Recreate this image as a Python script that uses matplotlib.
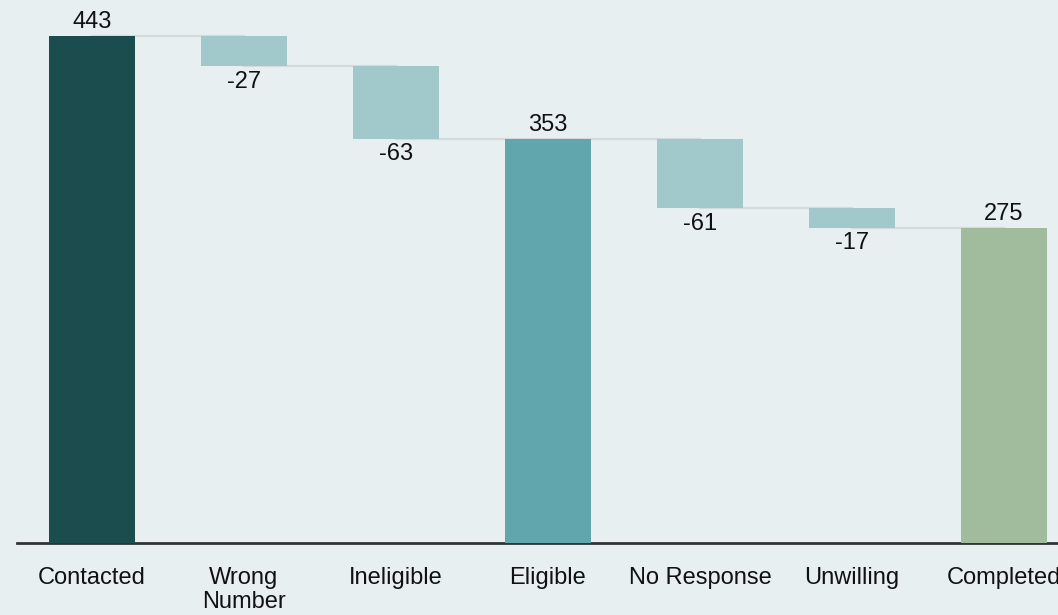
import matplotlib.pyplot as plt
import numpy as np

plt.rcParams['font.family'] = ['Liberation Sans', 'DejaVu Sans']

categories = ['Contacted', 'Wrong\nNumber', 'Ineligible', 'Eligible', 'No Response', 'Unwilling', 'Completed']
values = [443, -27, -63, 353, -61, -17, 275]
is_total = [True, False, False, True, False, False, True]
colors = ['#1b4c4e', '#a1c8cb', '#a1c8cb', '#61a6ac', '#a1c8cb', '#a1c8cb', '#a1bb9d']

bg = '#e7eff1'


def main():
    fig = plt.figure(figsize=(10.58, 6.15), dpi=100, facecolor=bg)
    ax = fig.add_axes([17 / 1058, 72 / 615, 1 - 17 / 1058, 543 / 615])
    ax.set_facecolor(bg)

    x = np.arange(len(values))
    bottoms, tops = [], []
    level = 0
    for v, tot in zip(values, is_total):
        if tot:
            bottoms.append(0)
            tops.append(v)
            level = v
        else:
            bottoms.append(level + v)
            tops.append(level)
            level = level + v
    heights = [t - b for t, b in zip(tops, bottoms)]

    ax.bar(x, heights, bottom=bottoms, width=0.566, color=colors, zorder=3)

    # connectors
    ends = [b if not tot else t for b, t, tot in zip(bottoms, tops, is_total)]
    for i in range(len(values) - 1):
        ax.plot([x[i], x[i + 1]], [ends[i], ends[i]], color='#d6dadb', lw=1.6, zorder=2)

    for i, (v, tot) in enumerate(zip(values, is_total)):
        if tot or v > 0:
            ax.annotate(str(v), (x[i], tops[i]), xytext=(0, 2), textcoords='offset points',
                        ha='center', va='bottom', fontsize=17, color='#111111')
        else:
            ax.annotate(str(v), (x[i], bottoms[i]), xytext=(0, -3), textcoords='offset points',
                        ha='center', va='top', fontsize=17, color='#111111')

    ax.set_xlim(-0.493, 6.355)
    ax.set_ylim(0, 474)
    ax.set_xticks(x)
    ax.set_xticklabels(categories, fontsize=17, color='#111111', linespacing=1.15)
    ax.tick_params(axis='x', length=0, pad=17)
    ax.set_yticks([])
    for s in ['top', 'right', 'left']:
        ax.spines[s].set_visible(False)
    ax.spines['bottom'].set_color('#333333')
    ax.spines['bottom'].set_linewidth(2)

    fig.savefig('out.png', dpi=100, facecolor=bg)


if __name__ == '__main__':
    main()
